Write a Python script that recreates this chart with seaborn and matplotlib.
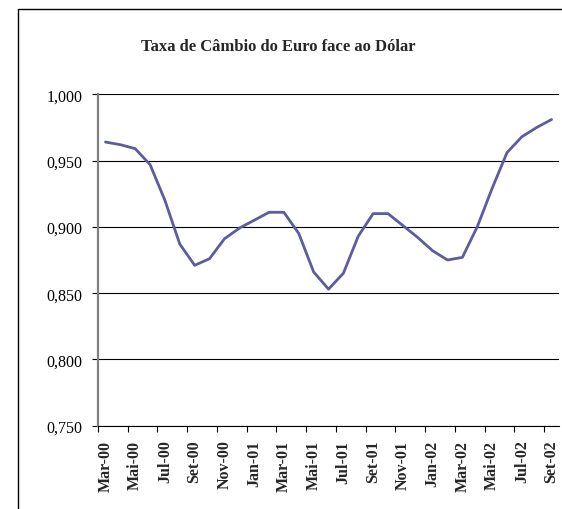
"""
Taxa de Câmbio do Euro face ao Dólar — Excel-style monthly line chart.
"""

import matplotlib
matplotlib.use("Agg")
import matplotlib.pyplot as plt
import numpy as np
import pandas as pd
import seaborn as sns
from matplotlib.patches import Rectangle

# ── Data ─────────────────────────────────────────────────────────────────────
months = [
    "Mar-00", "Abr-00", "Mai-00", "Jun-00", "Jul-00", "Ago-00", "Set-00",
    "Out-00", "Nov-00", "Dez-00", "Jan-01", "Fev-01", "Mar-01", "Abr-01",
    "Mai-01", "Jun-01", "Jul-01", "Ago-01", "Set-01", "Out-01", "Nov-01",
    "Dez-01", "Jan-02", "Fev-02", "Mar-02", "Abr-02", "Mai-02", "Jun-02",
    "Jul-02", "Ago-02", "Set-02",
]
rates = [
    0.964, 0.962, 0.959, 0.947, 0.920, 0.887, 0.871,
    0.876, 0.891, 0.899, 0.905, 0.911, 0.911, 0.895,
    0.866, 0.853, 0.865, 0.893, 0.910, 0.910, 0.901,
    0.892, 0.882, 0.875, 0.877, 0.900, 0.929, 0.956,
    0.968, 0.975, 0.981,
]
y_ticks = [0.750, 0.800, 0.850, 0.900, 0.950, 1.000]
title = "Taxa de Câmbio do Euro face ao Dólar"

# ── Style ────────────────────────────────────────────────────────────────────
sns.set_theme(style="white")
plt.rcParams["font.family"] = ["Liberation Serif", "DejaVu Serif"]
LINE_COLOR = "#5C5C9E"

fig = plt.figure(figsize=(5.62, 5.10), dpi=100)
ax = fig.add_axes([0.1744, 0.1633, 0.8203, 0.6498])

df = pd.DataFrame({"pos": np.arange(len(months)), "taxa": rates})
sns.lineplot(data=df, x="pos", y="taxa", ax=ax, color=LINE_COLOR, linewidth=2.0)

ax.set_xlim(-0.5, len(months) - 0.5)
ax.set_ylim(y_ticks[0], y_ticks[-1])
ax.set_xlabel("")
ax.set_ylabel("")

# category boundaries carry the tick marks, labels sit on the categories
ax.set_xticks(np.arange(-0.5, len(months) - 1, 2))
ax.set_xticklabels([])
ax.set_xticks(np.arange(0, len(months), 2), minor=True)
ax.set_xticklabels(months[::2], minor=True, rotation=90,
                   fontweight="bold", fontsize=11.5)
ax.tick_params(axis="x", which="major", bottom=True, length=4, width=0.8,
               color="black", direction="out")
ax.tick_params(axis="x", which="minor", bottom=True, length=0, pad=10)

ax.set_yticks(y_ticks)
ax.set_yticklabels([f"{v:.3f}".replace(".", ",") for v in y_ticks], fontsize=11.5)
ax.tick_params(axis="y", left=True, length=4, width=0.8, color="black",
               direction="out", pad=7)
ax.tick_params(colors="black")

ax.yaxis.grid(True, color="black", linewidth=0.8)
ax.xaxis.grid(False)

for side in ("top", "right"):
    ax.spines[side].set_visible(False)
ax.spines["left"].set_color("#808080")
ax.spines["left"].set_linewidth(1.6)
ax.spines["bottom"].set_color("black")
ax.spines["bottom"].set_linewidth(0.8)

fig.text(0.4956, 0.908, title, ha="center", va="center",
         fontsize=12, fontweight="bold")

# chart-area border (runs off the right and bottom edges)
fig.patches.append(Rectangle((0.032, -0.1), 1.2, 1.0804, transform=fig.transFigure,
                             fill=False, edgecolor="black", linewidth=1.0))

fig.savefig("out.png", dpi=100)
plt.close(fig)
